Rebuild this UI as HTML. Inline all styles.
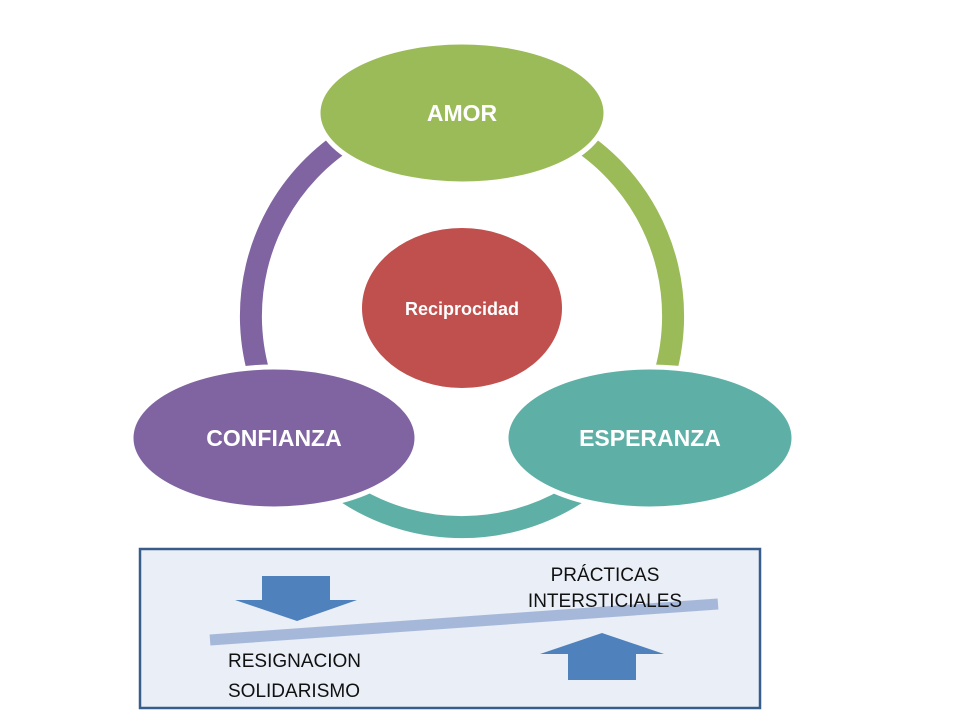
<!DOCTYPE html>
<html><head><meta charset="utf-8"><style>
body{margin:0;background:#fff}
svg{display:block}
text{font-family:"Liberation Sans",sans-serif}
</style></head><body>
<svg width="960" height="720" viewBox="0 0 960 720">
<g fill="none" stroke-width="22">
<path d="M285,431 A211,211 0 0 1 462,105" stroke="#8064a2"/>
<path d="M462,105 A211,211 0 0 1 639,431" stroke="#9bbb59"/>
<path d="M639,431 A211,211 0 0 1 285,431" stroke="#5eb0a6"/>
</g>
<g stroke="#fff" stroke-width="5">
<ellipse cx="462" cy="113" rx="144" ry="71" fill="#9bbb59"/>
<ellipse cx="274" cy="438" rx="143" ry="71" fill="#8064a2"/>
<ellipse cx="650" cy="438" rx="144" ry="71" fill="#5eb0a6"/>
</g>
<ellipse cx="462" cy="308" rx="100" ry="80" fill="#c0504d"/>
<g fill="#fff" font-weight="bold" text-anchor="middle">
<text x="462" y="121" font-size="23">AMOR</text>
<text x="274" y="446" font-size="23">CONFIANZA</text>
<text x="650" y="446" font-size="23">ESPERANZA</text>
<text x="462" y="315" font-size="18">Reciprocidad</text>
</g>
<rect x="140" y="549" width="620" height="159" fill="#e9eef7" stroke="#385d8a" stroke-width="2.5"/>
<line x1="210" y1="640" x2="718" y2="604" stroke="#a6b8da" stroke-width="11"/>
<path d="M262,576H330V600H357L297,621L235,600H262Z" fill="#4f81bd"/>
<path d="M602,633L664,654H636V680H568V654H540Z" fill="#4f81bd"/>
<g font-size="19" fill="#111">
<text x="605" y="581" text-anchor="middle">PRÁCTICAS</text>
<text x="605" y="607" text-anchor="middle">INTERSTICIALES</text>
<text x="228" y="667">RESIGNACION</text>
<text x="228" y="697">SOLIDARISMO</text>
</g>
</svg>
</body></html>
